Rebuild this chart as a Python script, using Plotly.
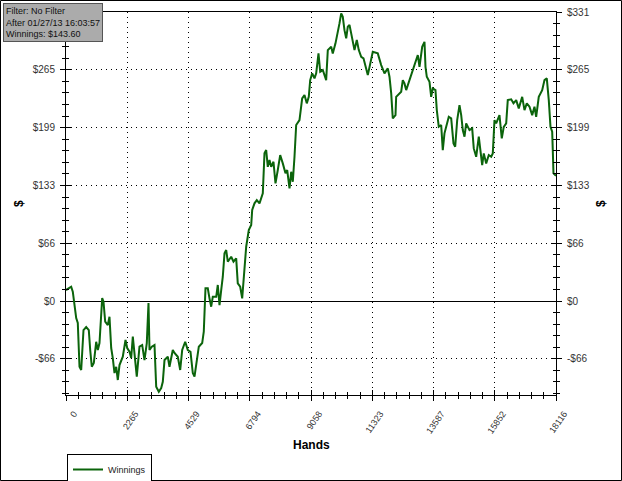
import plotly.graph_objects as go

# Cumulative winnings by hand number
hands = [0, 192, 251, 314, 377, 436, 499, 562, 647, 747, 843, 895, 954, 1028, 1116, 1176, 1238,
         1338, 1386, 1449, 1545, 1608, 1671, 1730, 1793, 1856, 1915, 1978, 2100, 2200, 2263, 2348,
         2410, 2470, 2532, 2617, 2717, 2817, 2902, 2987, 3050, 3087, 3172, 3272, 3335, 3431, 3520,
         3579, 3642, 3764, 3826, 3948, 4011, 4133, 4222, 4296, 4407, 4503, 4603, 4688, 4751, 4813,
         4910, 5035, 5094, 5157, 5242, 5305, 5368, 5427, 5553, 5612, 5675, 5738, 5797, 5860, 5923,
         5982, 6107, 6192, 6292, 6351, 6440, 6514, 6599, 6662, 6758, 6847, 6884, 6969, 7054, 7154,
         7276, 7338, 7401, 7461, 7523, 7586, 7671, 7745, 7830, 7919, 8015, 8115, 8178, 8263, 8326,
         8385, 8448, 8510, 8632, 8732, 8817, 8902, 8976, 9028, 9102, 9187, 9250, 9335, 9398, 9494,
         9619, 9679, 9805, 9863, 9963, 10048, 10111, 10174, 10233, 10296, 10359, 10418, 10481,
         10544, 10603, 10666, 10751, 10825, 10914, 10999, 11158, 11220, 11342, 11527, 11653, 11775,
         11897, 11960, 12023, 12082, 12182, 12207, 12392, 12452, 12514, 12577, 12699, 12821, 12921,
         13006, 13069, 13169, 13254, 13291, 13339, 13439, 13501, 13561, 13660, 13709, 13782, 13871,
         13930, 13993, 14056, 14152, 14241, 14326, 14389, 14463, 14548, 14611, 14670, 14733, 14795,
         14917, 15017, 15076, 15165, 15261, 15313, 15387, 15446, 15535, 15631, 15720, 15779, 15842,
         15904, 16026, 16111, 16185, 16274, 16333, 16459, 16544, 16644, 16740, 16866, 16951, 17036,
         17136, 17236, 17320, 17383, 17479, 17605, 17690, 17775, 17849, 17912, 17975, 17997, 18023,
         18116]

winnings = [12.6, 16.4, 10.7, -2.3, -19.5, -25.2, -75.4, -79.1, -33.3, -29.8, -33.3, -56.2, -75.4,
            -71.1, -46.7, -56.2, -48.2, 3.4, -0.8, -23.7, -27.5, -18.0, -53.9, -65.4, -82.6, -75.4,
            -90.6, -73.4, -63.9, -44.7, -53.9, -58.2, -65.4, -40.9, -59.6, -86.8, -52.4, -50.5,
            -67.7, -48.2, -2.3, -56.2, -52.4, -50.5, -98.3, -104.0, -99.8, -92.6, -67.7, -63.9,
            -75.4, -56.2, -59.6, -63.9, -79.1, -56.2, -46.7, -56.2, -58.2, -82.6, -86.8, -75.4,
            -52.4, -48.2, -35.2, 14.6, 14.6, 3.1, -6.5, 4.9, 4.9, 18.4, -4.6, 12.6, 27.9, 54.7,
            58.5, 45.1, 50.8, 45.1, 49.0, 20.3, 16.4, 3.1, 41.3, 62.3, 81.4, 87.2, 104.4, 112.1,
            115.8, 112.1, 123.5, 169.4, 173.2, 154.0, 161.7, 154.0, 159.8, 135.0, 150.3, 167.5,
            157.9, 146.5, 150.3, 129.3, 148.3, 136.8, 165.5, 201.9, 207.6, 232.5, 236.3, 226.8,
            234.3, 253.5, 261.2, 255.4, 261.2, 284.1, 263.0, 265.0, 253.5, 287.9, 291.7, 284.1,
            295.6, 307.1, 318.5, 330.0, 326.1, 310.8, 301.3, 314.6, 316.6, 307.1, 295.6, 287.9,
            299.4, 287.9, 280.2, 278.4, 259.2, 268.7, 285.9, 284.1, 270.7, 261.2, 266.9, 257.3,
            238.2, 209.6, 213.3, 234.3, 240.1, 253.5, 249.7, 242.0, 253.5, 263.0, 272.6, 282.2,
            268.7, 291.7, 297.4, 268.7, 257.3, 251.5, 234.3, 244.0, 242.0, 219.1, 199.9, 201.9,
            173.2, 192.4, 199.9, 211.4, 209.6, 180.9, 177.0, 207.6, 224.8, 213.3, 196.1, 188.5,
            203.8, 196.1, 198.1, 175.1, 165.5, 188.5, 175.1, 156.0, 169.4, 157.9, 167.5, 165.5,
            169.4, 207.6, 203.8, 213.3, 186.6, 199.9, 203.8, 230.5, 231.4, 226.8, 230.5, 221.0,
            234.3, 219.1, 226.8, 222.9, 213.3, 222.9, 211.4, 234.3, 242.0, 253.5, 255.4, 230.5,
            199.9, 194.2, 173.2, 146.5, 143.6]

assert len(hands) == len(winnings)

x_tick_vals = [0, 2264.5, 4529, 6793.5, 9058, 11322.5, 13587, 15851.5, 18116]
x_tick_text = ["0", "2265", "4529", "6794", "9058", "11323", "13587", "15852", "18116"]
y_tick_vals = [-66.3, 0, 66.3, 132.6, 198.9, 265.2, 331.5]
y_tick_text = ["-$66", "$0", "$66", "$133", "$199", "$265", "$331"]

x_range = [0, 18116]
y_range = [-107.8, 331.6]

# minor ticks: 5 subdivisions per major step
x_step = x_tick_vals[1] / 5
y_step = y_tick_vals[2] / 5
x_minor = [i * x_step for i in range(0, 41) if i % 5]
y_minor = [i * y_step for i in range(-8, 26) if i % 5]

FONT = "Liberation Sans, Arial, sans-serif"
GREEN = "#0b640b"

# plot area in pixels: x 66..556, y 12..395
L, R, T, B = 66, 556, 12, 395
W, H = R - L, B - T


def px_x(p):
    return (p - L) / W


def px_y(p):
    return (B - p) / H


fig = go.Figure()

fig.add_trace(go.Scatter(
    x=hands, y=winnings,
    mode="lines",
    name="Winnings",
    line=dict(color=GREEN, width=2),
))

# invisible copies so the tick-only overlay axes get drawn
for xa, ya in (("x2", "y2"), ("x", "y3"), ("x", "y4")):
    fig.add_trace(go.Scatter(
        x=hands, y=winnings, xaxis=xa, yaxis=ya,
        mode="lines", opacity=0, showlegend=False, hoverinfo="skip",
        line=dict(color=GREEN, width=1),
    ))

common_x = dict(range=x_range, tickmode="array", tickvals=x_tick_vals,
                fixedrange=True, automargin=False)
common_y = dict(range=y_range, tickmode="array", tickvals=y_tick_vals,
                fixedrange=True, automargin=False)

fig.update_layout(
    width=622, height=481,
    autosize=False,
    margin=dict(l=L, r=622 - R, t=T, b=481 - B),
    paper_bgcolor="white",
    plot_bgcolor="white",
    font=dict(family=FONT, size=9, color="#222222"),
    showlegend=True,
    xaxis=dict(
        **common_x,
        ticktext=x_tick_text,
        ticks="outside", ticklen=5, tickcolor="black",
        tickangle=-55, ticklabelshift=8, ticklabelstandoff=4,
        tickfont=dict(size=9, color="#333333"),
        showgrid=True, gridcolor="black", griddash="1px,4px", gridwidth=1,
        showline=True, linecolor="black", linewidth=1, mirror=True,
        zeroline=False,
        minor=dict(tickvals=x_minor, ticks="outside", ticklen=3, tickcolor="black",
                   showgrid=False),
    ),
    xaxis2=dict(
        **common_x,
        overlaying="x", side="bottom", anchor="y",
        ticks="inside", ticklen=5, tickcolor="black",
        showticklabels=False, showgrid=False, showline=False, zeroline=False,
        minor=dict(tickvals=x_minor, ticks="inside", ticklen=3, tickcolor="black",
                   showgrid=False),
    ),
    yaxis=dict(
        **common_y,
        ticktext=y_tick_text,
        ticks="outside", ticklen=5, tickcolor="black",
        ticklabelstandoff=3,
        tickfont=dict(size=10, color="#333333"),
        showgrid=True, gridcolor="black", griddash="1px,4px", gridwidth=1,
        showline=True, linecolor="black", linewidth=1, mirror=True,
        zeroline=True, zerolinecolor="black", zerolinewidth=1,
        minor=dict(tickvals=y_minor, ticks="outside", ticklen=3, tickcolor="black",
                   showgrid=False),
    ),
    yaxis2=dict(
        **common_y,
        ticktext=y_tick_text,
        overlaying="y", side="right", anchor="x2",
        ticks="outside", ticklen=5, tickcolor="black",
        ticklabelstandoff=3,
        tickfont=dict(size=10, color="#333333"),
        showgrid=False, showline=False, zeroline=False,
        minor=dict(tickvals=y_minor, ticks="outside", ticklen=3, tickcolor="black",
                   showgrid=False),
    ),
    yaxis3=dict(
        **common_y,
        overlaying="y", side="left", anchor="x",
        ticks="inside", ticklen=5, tickcolor="black",
        showticklabels=False, showgrid=False, showline=False, zeroline=False,
        minor=dict(tickvals=y_minor, ticks="inside", ticklen=3, tickcolor="black",
                   showgrid=False),
    ),
    yaxis4=dict(
        **common_y,
        overlaying="y", side="right", anchor="x",
        ticks="inside", ticklen=5, tickcolor="black",
        showticklabels=False, showgrid=False, showline=False, zeroline=False,
        minor=dict(tickvals=y_minor, ticks="inside", ticklen=3, tickcolor="black",
                   showgrid=False),
    ),
    legend=dict(
        xref="container", yref="container",
        x=67 / 622, y=(481 - 454) / 481, xanchor="left", yanchor="top",
        orientation="h",
        bgcolor="white", bordercolor="black", borderwidth=1,
        font=dict(size=9, color="#222222"),
        itemwidth=30,
    ),
)

# axis titles
fig.add_annotation(text="<b>Hands</b>", xref="paper", yref="paper",
                   x=0.5, y=px_y(445), xanchor="center", yanchor="middle",
                   showarrow=False, font=dict(size=12, color="black"))
for xp in (19, 601):
    fig.add_annotation(text="<b>$</b>", xref="paper", yref="paper",
                       x=px_x(xp), y=px_y(204), xanchor="center", yanchor="middle",
                       textangle=-90, showarrow=False, font=dict(size=12, color="black"))

# info box in the top left corner
fig.add_annotation(
    text="Filter: No Filter<br>After 01/27/13 16:03:57<br>Winnings: $143.60",
    xref="paper", yref="paper",
    x=px_x(3), y=px_y(3), xanchor="left", yanchor="top",
    align="left", showarrow=False,
    font=dict(size=9, color="#111111"),
    bgcolor="#ababab", bordercolor="#555555", borderwidth=1, borderpad=2,
)

# outer frame of the image
fig.add_shape(type="rect", xref="paper", yref="paper",
              x0=px_x(0.5), x1=px_x(621.5), y0=px_y(480.5), y1=px_y(0.5),
              line=dict(color="black", width=1), layer="above")

# the page body has a default margin; drop it so the figure sits at (0, 0)
fig.write_html("out.html", config={"displayModeBar": False},
               post_script="document.body.style.margin='0px';")
